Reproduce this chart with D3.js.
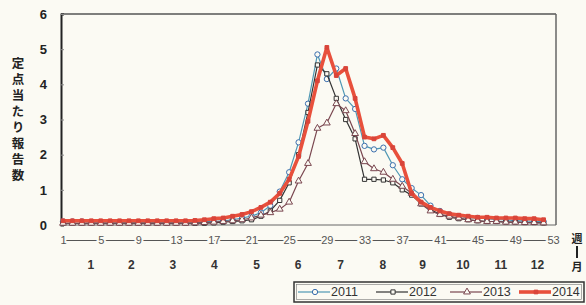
<!DOCTYPE html>
<html>
<head>
<meta charset="utf-8">
<script src="https://cdn.jsdelivr.net/npm/d3@7"></script>
<style>
  body { margin: 0; background: #fbfaf3; }
  svg { display: block; }
  .ylab text { font-family: "Liberation Sans", Arial, sans-serif; font-weight: bold; font-size: 13px; fill: #222; }
  .wk text { font-family: "Liberation Sans", Arial, sans-serif; font-size: 11px; fill: #555; }
  .mo text { font-family: "Liberation Sans", Arial, sans-serif; font-weight: bold; font-size: 12px; fill: #333; }
  .jp { font-family: "Noto Sans CJK JP", sans-serif; font-weight: bold; fill: #222; }
  .legend-text { font-family: "Liberation Sans", Arial, sans-serif; font-size: 12.5px; fill: #333; }
</style>
</head>
<body>
<div id="chart"></div>
<script>
// weeks 1..52, values
var weeks = d3.range(1, 53);

var s2011 = [0.1,0.1,0.1,0.08,0.08,0.08,0.08,0.07,0.07,0.07,
             0.07,0.07,0.07,0.08,0.08,0.1,0.1,0.12,0.15,0.2,
             0.25,0.35,0.55,0.95,1.5,2.35,3.45,4.85,4.15,4.45,
             3.6,3.3,2.25,2.15,2.2,1.7,1.3,1.05,0.85,0.55,
             0.4,0.3,0.25,0.2,0.2,0.18,0.15,0.15,0.12,0.12,0.1,0.1];
var s2012 = [0.05,0.05,0.05,0.05,0.05,0.05,0.05,0.05,0.05,0.05,
             0.05,0.05,0.05,0.05,0.05,0.05,0.06,0.08,0.1,0.12,
             0.15,0.25,0.4,0.7,1.2,2.0,3.2,4.55,4.3,3.6,
             3.0,2.45,1.3,1.3,1.28,1.2,1.0,0.85,0.6,0.45,
             0.3,0.22,0.18,0.15,0.12,0.1,0.1,0.08,0.08,0.07,0.07,0.06];
var s2013 = [0.05,0.05,0.05,0.05,0.05,0.05,0.05,0.05,0.05,0.05,
             0.05,0.05,0.05,0.05,0.06,0.07,0.08,0.1,0.12,0.15,
             0.2,0.28,0.35,0.45,0.65,1.25,1.75,2.75,2.9,3.45,
             3.25,2.6,1.8,1.6,1.5,1.3,1.1,0.9,0.6,0.4,
             0.3,0.25,0.2,0.15,0.12,0.1,0.1,0.08,0.08,0.07,0.07,0.06];
var s2014 = [0.12,0.12,0.12,0.12,0.12,0.12,0.12,0.12,0.12,0.12,
             0.12,0.12,0.12,0.12,0.13,0.15,0.18,0.2,0.25,0.3,
             0.38,0.5,0.65,0.9,1.3,1.95,2.95,4.1,5.05,4.25,
             4.45,3.6,2.5,2.45,2.55,2.2,1.75,0.9,0.65,0.5,
             0.4,0.32,0.28,0.25,0.22,0.22,0.2,0.2,0.2,0.18,0.18,0.15];

var weekTicks = [1,5,9,13,17,21,25,29,33,37,41,45,49,53];
var monthLabels = ['1','2','3','4','5','6','7','8','9','10','11','12'];
var monthWeeks = [3.9,8.2,12.6,17.0,21.5,25.9,30.4,34.9,39.1,43.4,47.4,51.3];
var yTicks = [0,1,2,3,4,5,6];
var yTitle = '定点当たり報告数';

var W = 586, H = 305;
var svg = d3.select('#chart').append('svg').attr('width', W).attr('height', H);
svg.append('rect').attr('width', W).attr('height', H).attr('fill', '#fbfaf3');

var x = d3.scaleLinear().domain([1, 53]).range([63, 553]);
var y = d3.scaleLinear().domain([0, 6]).range([225, 14]);

// frame
svg.append('line').attr('x1', 61).attr('x2', 556).attr('y1', 14).attr('y2', 14).attr('stroke', '#555').attr('stroke-width', 1.5);
svg.append('line').attr('x1', 556).attr('x2', 556).attr('y1', 14).attr('y2', 225).attr('stroke', '#666').attr('stroke-width', 1.5);
svg.append('line').attr('x1', 61).attr('x2', 556).attr('y1', 225).attr('y2', 225).attr('stroke', '#666').attr('stroke-width', 1);

// y axis
var yAxis = d3.axisLeft(y).tickValues(yTicks).tickSize(-3).tickPadding(14).tickFormat(d3.format('d'));
var yG = svg.append('g').attr('class', 'ylab').attr('transform', 'translate(61,0)').call(yAxis);
yG.select('.domain').attr('stroke', '#222').attr('stroke-width', 2);
yG.selectAll('.tick line').attr('stroke', '#888');

// y title, written top to bottom
svg.append('text')
    .attr('class', 'jp')
    .attr('x', 18)
    .attr('y', 57)
    .style('writing-mode', 'vertical-rl')
    .style('letter-spacing', '3.5px')
    .style('font-size', '12.5px')
    .text(yTitle);

// week axis
var wAxis = d3.axisBottom(x).tickValues(weekTicks).tickSize(0).tickPadding(0).tickFormat(d3.format('d'));
var wG = svg.append('g').attr('class', 'wk').attr('transform', 'translate(0,240)').call(wAxis);
wG.select('.domain').attr('stroke', '#555').attr('stroke-width', 1);
wG.selectAll('.tick text')
    .attr('dy', '0.35em')
    .attr('stroke', '#fbfaf3').attr('stroke-width', 4).attr('paint-order', 'stroke');

// month axis
var mAxis = d3.axisBottom(x).tickValues(monthWeeks).tickSize(0).tickPadding(0)
    .tickFormat(function(d, i) { return monthLabels[i]; });
var mG = svg.append('g').attr('class', 'mo').attr('transform', 'translate(0,265)').call(mAxis);
mG.select('.domain').remove();
mG.selectAll('.tick text').attr('dy', '0.35em');

// 週 | 月
svg.append('text').attr('class', 'jp').attr('x', 577).attr('y', 238).attr('text-anchor', 'middle')
    .attr('dominant-baseline', 'central').style('font-size', '11px').text('週');
svg.append('line').attr('x1', 577).attr('x2', 577).attr('y1', 246).attr('y2', 258).attr('stroke', '#222').attr('stroke-width', 2);
svg.append('text').attr('class', 'jp').attr('x', 577).attr('y', 266).attr('text-anchor', 'middle')
    .attr('dominant-baseline', 'central').style('font-size', '11px').text('月');

var series = [
    { name: '2011', values: s2011, color: '#4f98b4', mark: '#3b6fae', width: 1.2, shape: 'circle' },
    { name: '2012', values: s2012, color: '#333333', mark: '#333333', width: 1.2, shape: 'square' },
    { name: '2013', values: s2013, color: '#7a4750', mark: '#7a4750', width: 1.2, shape: 'triangle' },
    { name: '2014', values: s2014, color: '#e8503c', mark: '#d9453a', width: 3.6, shape: 'square' }
];

var line = d3.line()
    .x(function(d, i) { return x(weeks[i]); })
    .y(function(d) { return y(d); });

function symbolFor(s) {
    if (s.shape === 'circle') return d3.symbol(d3.symbolCircle, 22);
    if (s.shape === 'triangle') return d3.symbol(d3.symbolTriangle, 20);
    return d3.symbol(d3.symbolSquare, s.name === '2014' ? 14 : 18);
}

series.forEach(function(s) {
    var g = svg.append('g');
    g.append('path')
        .attr('d', line(s.values))
        .attr('fill', 'none')
        .attr('stroke', s.color)
        .attr('stroke-width', s.width)
        .attr('stroke-linejoin', 'round');
    g.selectAll('path.m')
        .data(s.values)
        .enter().append('path')
        .attr('class', 'm')
        .attr('transform', function(d, i) { return 'translate(' + x(weeks[i]) + ',' + y(d) + ')'; })
        .attr('d', symbolFor(s)())
        .attr('fill', s.name === '2014' ? s.mark : '#fbfaf3')
        .attr('stroke', s.mark)
        .attr('stroke-width', 1);
});

// legend
var legend = svg.append('g').attr('id', 'legend');
legend.append('rect').attr('x', 294).attr('y', 282).attr('width', 290).attr('height', 20)
    .attr('fill', '#fbfaf3').attr('stroke', '#333').attr('stroke-width', 1.5);
legend.append('rect').attr('x', 296.5).attr('y', 284.5).attr('width', 285).attr('height', 15)
    .attr('fill', 'none').attr('stroke', '#777').attr('stroke-width', 0.6);

var legX = [298, 376, 450, 519];
series.forEach(function(s, i) {
    var lx = legX[i];
    legend.append('line').attr('x1', lx).attr('x2', lx + 32).attr('y1', 292).attr('y2', 292)
        .attr('stroke', s.color).attr('stroke-width', s.width);
    legend.append('path')
        .attr('transform', 'translate(' + (lx + 17) + ',292)')
        .attr('d', symbolFor(s)())
        .attr('fill', s.name === '2014' ? s.mark : '#fbfaf3')
        .attr('stroke', s.mark).attr('stroke-width', 1);
    legend.append('text').attr('class', 'legend-text')
        .attr('x', lx + 33).attr('y', 292).attr('dominant-baseline', 'central')
        .text(s.name);
});
</script>
</body>
</html>
